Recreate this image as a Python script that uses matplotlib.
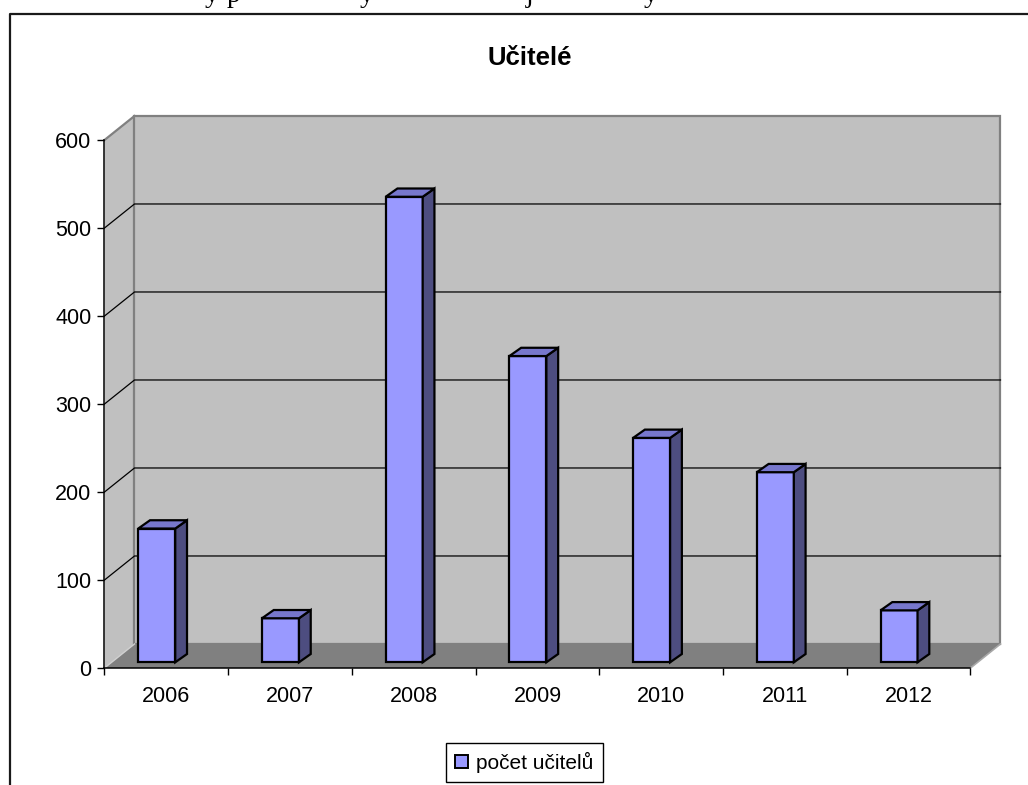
import matplotlib.pyplot as plt
from matplotlib.patches import Polygon, Patch
from matplotlib.lines import Line2D

# data
years = ['2006', '2007', '2008', '2009', '2010', '2011', '2012']
teachers = [152, 50, 529, 348, 255, 216, 59]
y_ticks = [0, 100, 200, 300, 400, 500, 600]

plt.rcParams['font.family'] = ['Liberation Sans', 'DejaVu Sans']

fig = plt.figure(figsize=(10.28, 7.85), dpi=100)
ax = fig.add_axes([0.10165, 0.14904, 0.84241, 0.67261])
n = len(years)
top = y_ticks[-1]
ax.set_xlim(0, n)
ax.set_ylim(0, top)
ax.patch.set_visible(False)

# depth of the 3D box (in data units)
wx, wy = 0.2425, 27.3
wall = '#C0C0C0'
edge = '#808080'

# side wall, back wall, floor
ax.add_patch(Polygon([(0, 0), (wx, wy), (wx, top + wy), (0, top)],
                     fc=wall, ec='none', zorder=0.5, clip_on=False))
ax.add_patch(Polygon([(wx, wy), (n + wx, wy), (n + wx, top + wy), (wx, top + wy)],
                     fc=wall, ec=edge, lw=1.6, zorder=0.6, clip_on=False))
ax.plot([0, wx], [top, top + wy], color=edge, lw=1.6, zorder=0.7, clip_on=False)
ax.add_patch(Polygon([(0, 0), (n, 0), (n + wx, wy), (wx, wy)],
                     fc='#808080', ec='none', zorder=1.2, clip_on=False))
ax.plot([n, n + wx], [0, wy], color='#A8A8A8', lw=1.2, zorder=1.3, clip_on=False)
ax.plot([0, wx], [0, wy], color='#D0D0D0', lw=1.0, zorder=1.3, clip_on=False)

# gridlines on side and back wall
for v in y_ticks[1:-1]:
    ax.plot([0, wx, n + wx], [v, v + wy, v + wy], color='black', lw=0.9,
            zorder=1.0, clip_on=False)

# 3D bars
off, bw, base = 0.273, 0.299, 6.5
ddx, ddy = 0.095, 9.4
for i, v in enumerate(teachers):
    x0 = i + off
    x1 = x0 + bw
    h = base + v
    ax.add_patch(Polygon([(x0, base), (x1, base), (x1, h), (x0, h)],
                         fc='#9999FF', ec='black', lw=1.6, zorder=3, joinstyle='miter'))
    ax.add_patch(Polygon([(x1, base), (x1 + ddx, base + ddy), (x1 + ddx, h + ddy), (x1, h)],
                         fc='#4D4D80', ec='black', lw=1.6, zorder=3, joinstyle='miter'))
    ax.add_patch(Polygon([(x0, h), (x1, h), (x1 + ddx, h + ddy), (x0 + ddx, h + ddy)],
                         fc='#7777CC', ec='black', lw=1.6, zorder=3, joinstyle='miter'))

# axes
for s in ['top', 'right']:
    ax.spines[s].set_visible(False)
for s in ['left', 'bottom']:
    ax.spines[s].set_color('black')
    ax.spines[s].set_linewidth(1.1)

ax.set_yticks(y_ticks)
ax.tick_params(axis='y', direction='out', length=5, width=1, pad=4.5, labelsize=15.5)
ax.set_xticks(range(n + 1))
ax.set_xticklabels([])
ax.set_xticks([i + 0.5 for i in range(n)], minor=True)
ax.set_xticklabels(years, minor=True)
ax.tick_params(axis='x', which='major', direction='out', length=5, width=1)
ax.tick_params(axis='x', which='minor', length=0, pad=13.2, labelsize=15.5)

# title
fig.text(0.5155, 1 - 65 / 785, 'Učitelé', ha='center', va='baseline',
         fontsize=18.5, fontweight='bold')

# legend
handle = Patch(facecolor='#9999FF', edgecolor='black', lw=1.4, label='počet učitelů')
leg = fig.legend(handles=[handle], loc='center', bbox_to_anchor=(524.5 / 1028, 1 - 762.5 / 785),
                 fontsize=15, fancybox=False, framealpha=1, edgecolor='black',
                 handlelength=0.6, handleheight=0.6, handletextpad=0.4, borderpad=0.45)
leg.get_frame().set_linewidth(1.0)

# chart border (top and left visible)
fig.add_artist(Line2D([10 / 1028, 10 / 1028, 1.0], [0.0, 1 - 14 / 785, 1 - 14 / 785],
                      color='#1a1a1a', lw=1.6))

# bottom of the document text line above the chart
for x, ch in [(205, 'y'), (227, 'p'), (360, 'y'), (526, 'j'), (644, 'y')]:
    fig.text(x / 1028, 1 - 2 / 785, ch, family='Liberation Serif', fontsize=20,
             ha='left', va='baseline')

fig.savefig('out.png', dpi=100)
